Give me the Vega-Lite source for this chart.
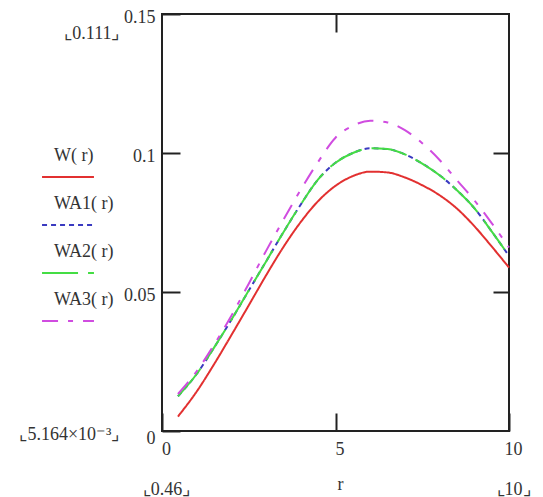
{
  "$schema": "https://vega.github.io/schema/vega-lite/v6.json",
  "width": 347,
  "height": 417,
  "autosize": {"type": "none"},
  "padding": {"left": 162, "top": 14, "right": 34, "bottom": 66},
  "background": "white",
  "config": {
    "view": {"stroke": "#222", "strokeWidth": 2},
    "font": "Liberation Serif",
    "axis": {
      "labelFont": "Liberation Serif",
      "labelFontSize": 18,
      "labelColor": "#333",
      "domain": false,
      "grid": false,
      "tickColor": "#222",
      "tickWidth": 2,
      "labelFlush": false,
      "labelOverlap": false,
      "labelBound": false,
      "titleFont": "Liberation Serif",
      "titleFontWeight": "normal",
      "titleFontSize": 18,
      "titleColor": "#333"
    }
  },
  "data": {
    "values": [
      {"s": "W(r)", "r": 0.46, "v": 0.0052}, {"s": "W(r)", "r": 1, "v": 0.0142}, {"s": "W(r)", "r": 1.5, "v": 0.024}, {"s": "W(r)", "r": 2, "v": 0.0345}, {"s": "W(r)", "r": 2.5, "v": 0.0452}, {"s": "W(r)", "r": 3, "v": 0.056}, {"s": "W(r)", "r": 3.5, "v": 0.0662}, {"s": "W(r)", "r": 4, "v": 0.0752}, {"s": "W(r)", "r": 4.5, "v": 0.0827}, {"s": "W(r)", "r": 5, "v": 0.0882}, {"s": "W(r)", "r": 5.5, "v": 0.0917}, {"s": "W(r)", "r": 6, "v": 0.0933}, {"s": "W(r)", "r": 6.5, "v": 0.093}, {"s": "W(r)", "r": 7, "v": 0.0912}, {"s": "W(r)", "r": 7.5, "v": 0.0884}, {"s": "W(r)", "r": 8, "v": 0.0848}, {"s": "W(r)", "r": 8.5, "v": 0.08}, {"s": "W(r)", "r": 9, "v": 0.0737}, {"s": "W(r)", "r": 9.5, "v": 0.0664}, {"s": "W(r)", "r": 10, "v": 0.0588},
      {"s": "WA1(r)", "r": 0.46, "v": 0.0125}, {"s": "WA1(r)", "r": 1, "v": 0.0205}, {"s": "WA1(r)", "r": 1.5, "v": 0.03}, {"s": "WA1(r)", "r": 2, "v": 0.04}, {"s": "WA1(r)", "r": 2.5, "v": 0.0505}, {"s": "WA1(r)", "r": 3, "v": 0.061}, {"s": "WA1(r)", "r": 3.5, "v": 0.0715}, {"s": "WA1(r)", "r": 4, "v": 0.0815}, {"s": "WA1(r)", "r": 4.5, "v": 0.0905}, {"s": "WA1(r)", "r": 5, "v": 0.0965}, {"s": "WA1(r)", "r": 5.5, "v": 0.1}, {"s": "WA1(r)", "r": 6, "v": 0.1017}, {"s": "WA1(r)", "r": 6.5, "v": 0.1014}, {"s": "WA1(r)", "r": 7, "v": 0.0995}, {"s": "WA1(r)", "r": 7.5, "v": 0.0962}, {"s": "WA1(r)", "r": 8, "v": 0.092}, {"s": "WA1(r)", "r": 8.5, "v": 0.0866}, {"s": "WA1(r)", "r": 9, "v": 0.0802}, {"s": "WA1(r)", "r": 9.5, "v": 0.0718}, {"s": "WA1(r)", "r": 10, "v": 0.063},
      {"s": "WA2(r)", "r": 0.46, "v": 0.0125}, {"s": "WA2(r)", "r": 1, "v": 0.0205}, {"s": "WA2(r)", "r": 1.5, "v": 0.03}, {"s": "WA2(r)", "r": 2, "v": 0.04}, {"s": "WA2(r)", "r": 2.5, "v": 0.0505}, {"s": "WA2(r)", "r": 3, "v": 0.061}, {"s": "WA2(r)", "r": 3.5, "v": 0.0715}, {"s": "WA2(r)", "r": 4, "v": 0.0815}, {"s": "WA2(r)", "r": 4.5, "v": 0.0905}, {"s": "WA2(r)", "r": 5, "v": 0.0965}, {"s": "WA2(r)", "r": 5.5, "v": 0.1}, {"s": "WA2(r)", "r": 6, "v": 0.1017}, {"s": "WA2(r)", "r": 6.5, "v": 0.1014}, {"s": "WA2(r)", "r": 7, "v": 0.0995}, {"s": "WA2(r)", "r": 7.5, "v": 0.0962}, {"s": "WA2(r)", "r": 8, "v": 0.092}, {"s": "WA2(r)", "r": 8.5, "v": 0.0866}, {"s": "WA2(r)", "r": 9, "v": 0.0802}, {"s": "WA2(r)", "r": 9.5, "v": 0.0718}, {"s": "WA2(r)", "r": 10, "v": 0.063},
      {"s": "WA3(r)", "r": 0.46, "v": 0.0133}, {"s": "WA3(r)", "r": 1, "v": 0.0215}, {"s": "WA3(r)", "r": 1.5, "v": 0.031}, {"s": "WA3(r)", "r": 2, "v": 0.0415}, {"s": "WA3(r)", "r": 2.5, "v": 0.053}, {"s": "WA3(r)", "r": 3, "v": 0.0648}, {"s": "WA3(r)", "r": 3.5, "v": 0.076}, {"s": "WA3(r)", "r": 4, "v": 0.0868}, {"s": "WA3(r)", "r": 4.5, "v": 0.0968}, {"s": "WA3(r)", "r": 5, "v": 0.1055}, {"s": "WA3(r)", "r": 5.5, "v": 0.1098}, {"s": "WA3(r)", "r": 6, "v": 0.1116}, {"s": "WA3(r)", "r": 6.5, "v": 0.111}, {"s": "WA3(r)", "r": 7, "v": 0.1082}, {"s": "WA3(r)", "r": 7.5, "v": 0.1035}, {"s": "WA3(r)", "r": 8, "v": 0.0975}, {"s": "WA3(r)", "r": 8.5, "v": 0.0902}, {"s": "WA3(r)", "r": 9, "v": 0.083}, {"s": "WA3(r)", "r": 9.5, "v": 0.0748}, {"s": "WA3(r)", "r": 10, "v": 0.066}
    ]
  },
  "layer": [
    {
      "mark": {"type": "line", "strokeWidth": 2, "interpolate": "monotone"},
      "encoding": {
        "x": {
          "field": "r", "type": "quantitative",
          "scale": {"domain": [0, 10], "nice": false, "zero": false},
          "axis": {
            "orient": "bottom", "values": [0, 5, 10], "tickSize": -18,
            "labelPadding": 27, "labelOffset": 4, "labelLineHeight": 40, "labelBaseline": "top",
            "labelExpr": "datum.value == 0 ? ['0', '⌞0.46⌟'] : datum.value == 10 ? ['10', '⌞10⌟'] : '5'",
            "title": "r", "titleX": 178, "titleY": 53, "titleBaseline": "middle"
          }
        },
        "y": {
          "field": "v", "type": "quantitative",
          "scale": {"domain": [0, 0.15], "nice": false, "zero": false},
          "axis": {
            "orient": "left", "values": [0, 0.05, 0.1, 0.15], "tickSize": -18,
            "labelPadding": 25, "labelBaseline": "middle",
            "labelExpr": "datum.value == 0 ? '0' : datum.value == 0.05 ? '0.05' : datum.value == 0.1 ? '0.1' : '0.15'",
            "labelOffset": {"condition": {"test": "datum.value == 0", "value": 7}, "value": 3},
            "title": null
          }
        },
        "color": {
          "field": "s", "type": "nominal",
          "scale": {"domain": ["W(r)", "WA1(r)", "WA2(r)", "WA3(r)"], "range": ["#e23030", "#3a3ac0", "#44dd44", "#d04ce0"]},
          "legend": {
            "orient": "none", "legendX": -117, "legendY": 119, "title": null,
            "symbolType": "M-1.18,0.95H1.18", "symbolSize": 1936, "symbolStrokeWidth": 2,
            "labelFont": "Liberation Serif", "labelFontSize": 18, "labelColor": "#333",
            "labelBaseline": "middle", "labelOffset": -37, "rowPadding": 0, "padding": 0,
            "labelExpr": "replace(datum.label, '(', '( ')"
          }
        },
        "strokeDash": {
          "field": "s", "type": "nominal",
          "scale": {"domain": ["W(r)", "WA1(r)", "WA2(r)", "WA3(r)"], "range": [[1, 0], [5, 4], [36, 10], [16, 10, 5, 10]]},
          "legend": {
            "orient": "none", "legendX": -117, "legendY": 119, "title": null,
            "symbolType": "M-1.18,0.95H1.18", "symbolSize": 1936, "symbolStrokeWidth": 2,
            "labelFont": "Liberation Serif", "labelFontSize": 18, "labelColor": "#333",
            "labelBaseline": "middle", "labelOffset": -37, "rowPadding": 0, "padding": 0,
            "labelExpr": "replace(datum.label, '(', '( ')"
          }
        }
      }
    },
    {
      "mark": {"type": "point", "opacity": 0},
      "encoding": {
        "x": {"field": "r", "type": "quantitative", "axis": {"orient": "top", "values": [5], "tickSize": -18, "labels": false, "title": null}},
        "y": {"field": "v", "type": "quantitative", "axis": {"orient": "right", "values": [0.05, 0.1], "tickSize": -16, "labels": false, "title": null}}
      }
    },
    {
      "mark": {"type": "point", "opacity": 0},
      "encoding": {
        "x": {"field": "r", "type": "quantitative", "axis": null},
        "y": {
          "field": "v", "type": "quantitative",
          "axis": {
            "orient": "left", "offset": 40, "values": [0, 0.15], "ticks": false, "labelPadding": 3,
            "labelExpr": "datum.value == 0 ? '⌞5.164×10⁻³⌟' : '⌞0.111⌟'",
            "labelBaseline": "middle",
            "labelOffset": {"condition": {"test": "datum.value > 0.1", "value": 19}, "value": 3},
            "title": null
          }
        }
      }
    }
  ],
  "resolve": {"axis": {"x": "independent", "y": "independent"}}
}
